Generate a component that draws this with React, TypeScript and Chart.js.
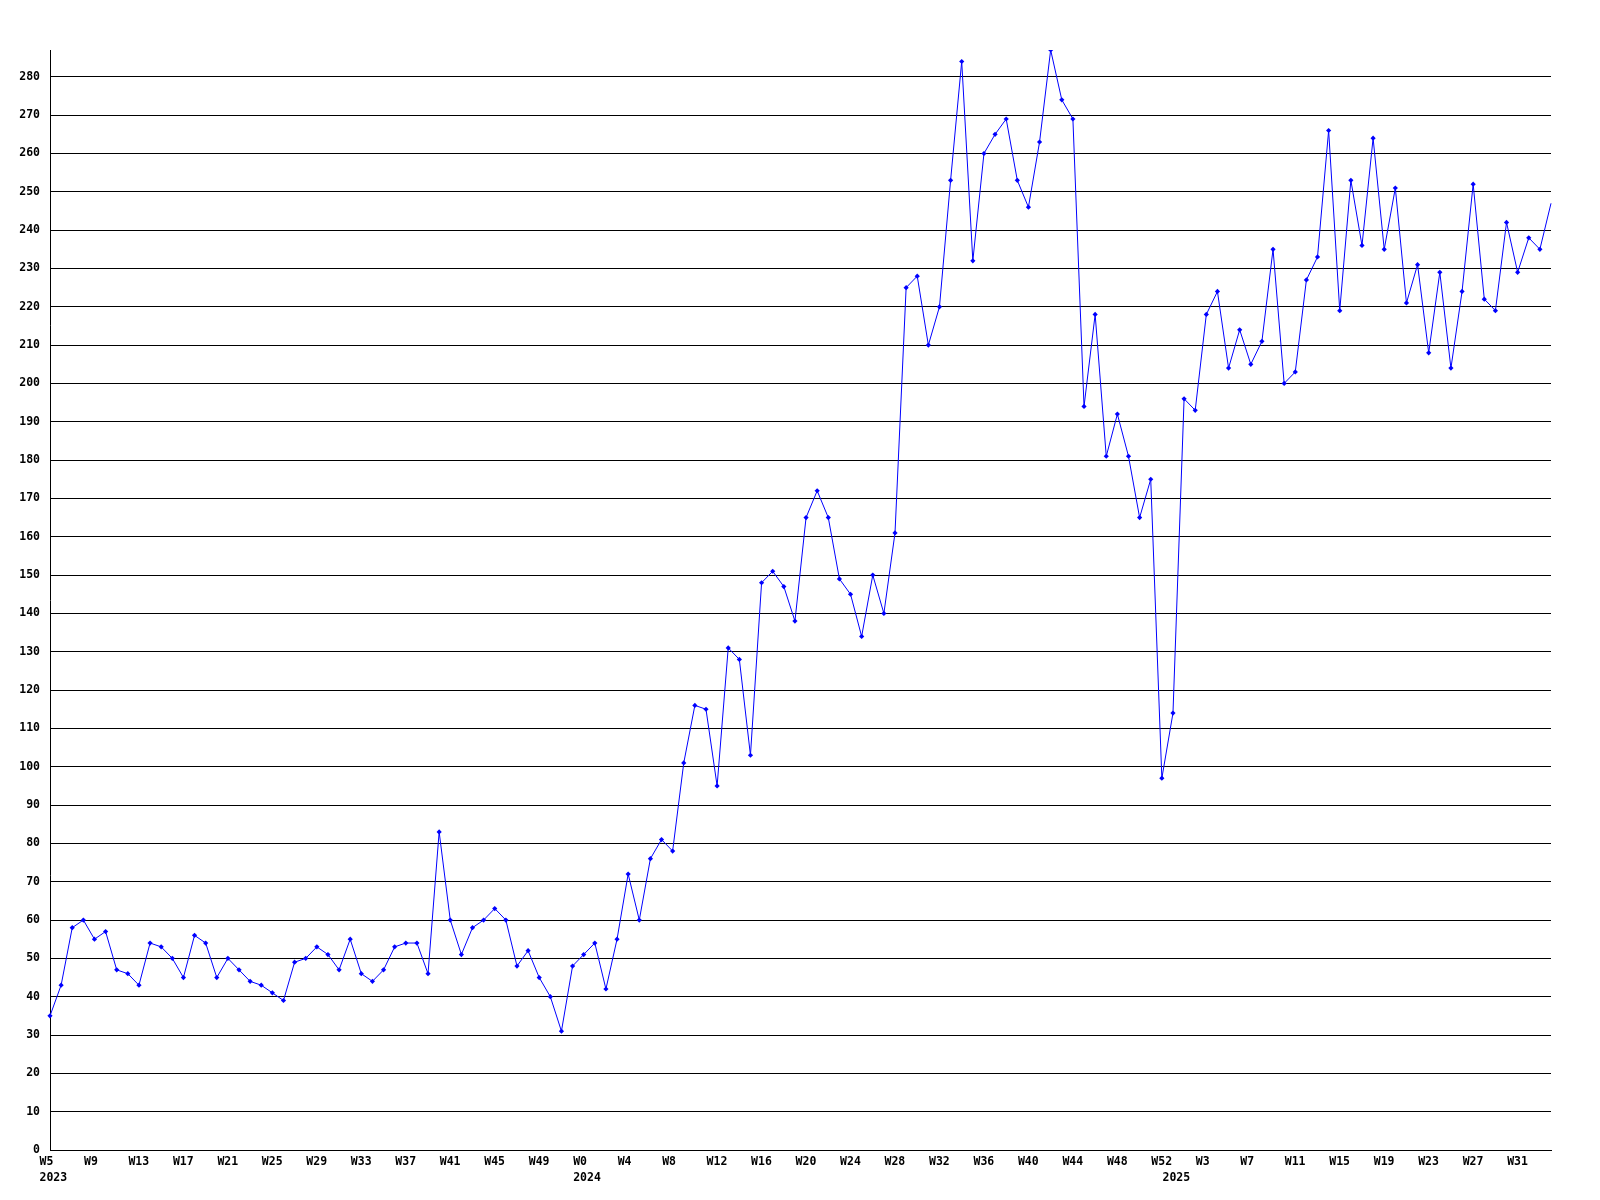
import React, { useEffect, useRef } from "react";
import { Chart, registerables } from "chart.js";

Chart.register(...registerables);

// Weekly values, one array per year
const YEARS = ["2023", "2024", "2025"];
const FIRST_WEEK = [5, 0, 0];
const values2023 = [35, 43, 58, 60, 55, 57, 47, 46, 43, 54, 53, 50, 45, 56, 54, 45, 50, 47, 44, 43, 41, 39, 49, 50, 53, 51, 47, 55, 46, 44, 47, 53, 54, 54, 46, 83, 60, 51, 58, 60, 63, 60, 48, 52, 45, 40, 31, 48];
const values2024 = [51, 54, 42, 55, 72, 60, 76, 81, 78, 101, 116, 115, 95, 131, 128, 103, 148, 151, 147, 138, 165, 172, 165, 149, 145, 134, 150, 140, 161, 225, 228, 210, 220, 253, 284, 232, 260, 265, 269, 253, 246, 263, 287, 274, 269, 194, 218, 181, 192, 181, 165, 175, 97];
const values2025 = [114, 196, 193, 218, 224, 204, 214, 205, 211, 235, 200, 203, 227, 233, 266, 219, 253, 236, 264, 235, 251, 221, 231, 208, 229, 204, 224, 252, 222, 219, 242, 229, 238, 235, 247];

const Y_MAX = 287;
const Y_STEP = 10;
const LABEL_EVERY = 4;

const seriesByYear = [values2023, values2024, values2025];
const weekLabels: string[] = [];
const weekYears: string[] = [];
const allValues: number[] = [];
seriesByYear.forEach((arr, yi) => {
  arr.forEach((v, k) => {
    weekLabels.push("W" + (FIRST_WEEK[yi] + k));
    weekYears.push(YEARS[yi]);
    allValues.push(v);
  });
});

const FONT = { family: '"DejaVu Sans Mono", monospace', size: 11.5, weight: "bold" as const, lineHeight: 1.4 };

export default function App() {
  const ref = useRef<HTMLCanvasElement | null>(null);
  useEffect(() => {
    document.body.style.margin = "0";
    const canvas = ref.current!;
    const last = allValues.length - 1;
    const chart = new Chart(canvas, {
      type: "line",
      data: {
        labels: weekLabels,
        datasets: [
          {
            data: allValues,
            borderColor: "#0000ff",
            backgroundColor: "#0000ff",
            borderWidth: 1,
            tension: 0,
            pointStyle: "rectRot",
            pointRadius: (c: any) => (c.dataIndex === last ? 0 : 2.6),
            pointBorderWidth: 0,
            pointBackgroundColor: "#0000ff",
          },
        ],
      },
      options: {
        animation: false,
        responsive: false,
        devicePixelRatio: 1,
        layout: { padding: { top: 50, right: 49, left: 0, bottom: 0 } },
        plugins: { legend: { display: false }, tooltip: { enabled: false } },
        scales: {
          x: {
            type: "category",
            position: "bottom",
            offset: false,
            grid: { display: false, drawTicks: false },
            border: { display: true, color: "#000", width: 1 },
            afterFit: (s: any) => {
              s.height = 16;
            },
            ticks: {
              autoSkip: false,
              maxRotation: 0,
              minRotation: 0,
              padding: 4,
              align: "start",
              labelOffset: -10.5,
              color: "#000",
              font: FONT,
              callback: (_v: any, i: number) => (i % LABEL_EVERY === 0 ? weekLabels[i] : (null as any)),
            },
          },
          xYear: {
            type: "category",
            position: "bottom",
            offset: false,
            grid: { display: false, drawTicks: false },
            border: { display: false },
            afterFit: (s: any) => {
              s.height = 34;
            },
            ticks: {
              autoSkip: false,
              maxRotation: 0,
              minRotation: 0,
              padding: 4,
              align: "start",
              labelOffset: -10.5,
              color: "#000",
              font: FONT,
              callback: (_v: any, i: number) =>
                i === 0 || weekYears[i - 1] !== weekYears[i] ? weekYears[i] : (null as any),
            },
          },
          y: {
            min: 0,
            max: Y_MAX,
            grid: { color: "#000", lineWidth: 1, drawTicks: false },
            border: { display: true, color: "#000", width: 1 },
            afterFit: (s: any) => {
              s.width = 50;
            },
            afterBuildTicks: (s: any) => {
              s.ticks = s.ticks.filter((t: any) => t.value % Y_STEP === 0);
            },
            ticks: {
              stepSize: Y_STEP,
              padding: 10,
              color: "#000",
              font: FONT,
            },
          },
        },
      },
    });
    return () => chart.destroy();
  }, []);
  return <canvas ref={ref} width={1600} height={1200} style={{ display: "block", width: 1600, height: 1200 }} />;
}
